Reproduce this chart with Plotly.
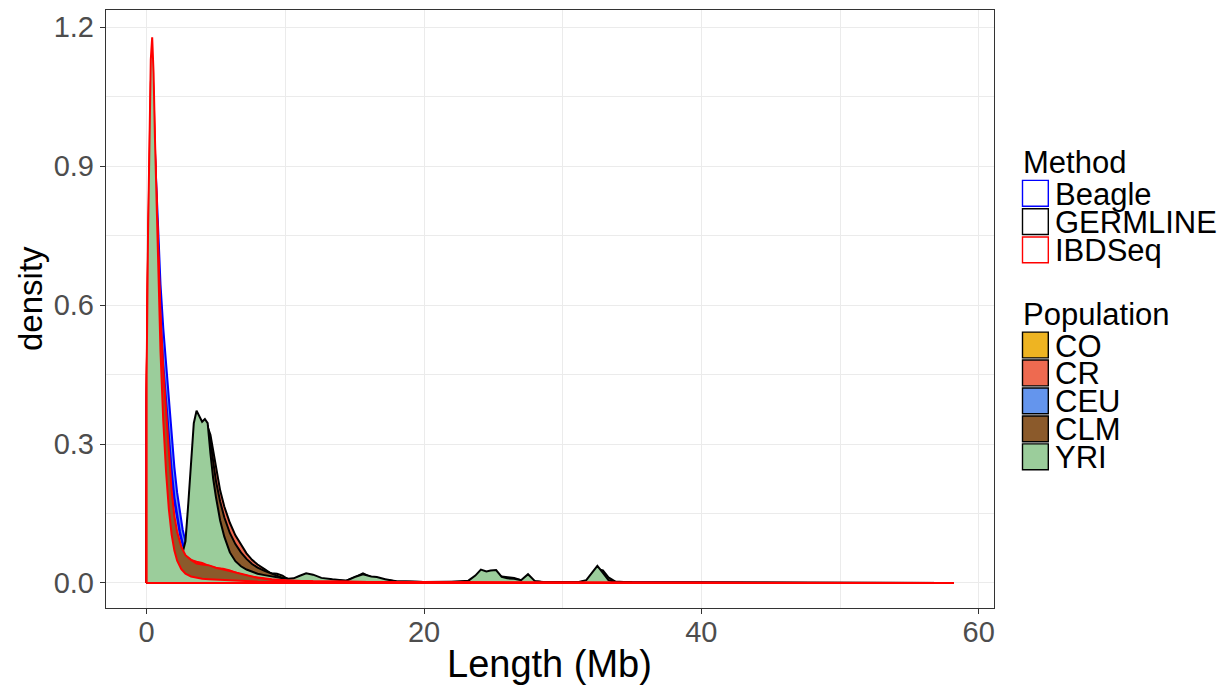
import plotly.graph_objects as go

# ---------------- data ----------------
methods = ["Beagle", "GERMLINE", "IBDSeq"]
populations = ["CO", "CR", "CEU", "CLM", "YRI"]

x_ticks = [0, 20, 40, 60]
y_ticks = [0.0, 0.3, 0.6, 0.9, 1.2]

# Beagle densities (Length in Mb)
beagle_x = [0, 0.2, 0.4, 0.6, 0.8, 1.0, 1.2, 1.4, 1.6, 1.8, 2.0, 2.2, 2.4, 2.6, 2.8,
            3.0, 3.5, 4.0, 5.0, 6.0, 8.0, 10.0, 15.0, 20.0, 30.0, 40.0, 50.0]
beagle_co = [0.38, 0.78, 0.98, 0.90, 0.74, 0.60, 0.50, 0.42, 0.34, 0.27, 0.21, 0.16, 0.125, 0.098, 0.078,
             0.064, 0.045, 0.034, 0.024, 0.017, 0.009, 0.005, 0.002, 0.001, 0.0005, 0.0002, 0.0001]
beagle_cr = [0.36, 0.76, 0.96, 0.88, 0.72, 0.59, 0.49, 0.41, 0.335, 0.265, 0.205, 0.158, 0.122, 0.096, 0.076,
             0.062, 0.044, 0.033, 0.023, 0.016, 0.009, 0.005, 0.002, 0.001, 0.0005, 0.0002, 0.0001]
beagle_ceu = [0.40, 0.80, 1.00, 0.93, 0.78, 0.645, 0.55, 0.47, 0.39, 0.32, 0.25, 0.195, 0.15, 0.115, 0.09,
              0.07, 0.048, 0.036, 0.025, 0.017, 0.009, 0.005, 0.002, 0.001, 0.0005, 0.0002, 0.0001]
beagle_clm = [0.37, 0.76, 0.96, 0.87, 0.70, 0.57, 0.47, 0.39, 0.31, 0.245, 0.185, 0.142, 0.11, 0.086, 0.068,
              0.058, 0.042, 0.032, 0.022, 0.015, 0.008, 0.004, 0.002, 0.001, 0.0004, 0.0002, 0.0001]
beagle_yri = [0.34, 0.74, 0.95, 0.86, 0.69, 0.55, 0.45, 0.37, 0.295, 0.23, 0.175, 0.135, 0.105, 0.082, 0.065,
              0.055, 0.04, 0.031, 0.021, 0.014, 0.008, 0.004, 0.002, 0.001, 0.0004, 0.0002, 0.0001]

# GERMLINE densities
germ_x = [0, 0.2, 0.4, 0.6, 0.8, 1.0, 1.3, 1.6, 2.0, 2.3, 2.6, 2.8, 3.0, 3.2, 3.4, 3.6, 3.8, 4.0,
          4.2, 4.4, 4.6, 4.8, 5.0, 5.3, 5.6, 6.0, 6.4, 6.8, 7.2, 7.6, 8.0, 8.5, 9.0, 9.4, 9.8, 10.2,
          10.6, 11.0, 11.5, 12.0, 12.6, 13.4, 14.4, 15.0, 15.6, 16.2, 16.6, 17.2, 18.0, 20.0, 22.0, 23.2,
          23.7, 24.1, 24.5, 24.8, 25.2, 25.6, 26.0, 26.5, 27.0, 27.5, 28.0, 29.0, 31.0, 31.7, 32.1, 32.5,
          32.9, 33.3, 33.8, 35.0, 40.0, 48.0, 58.2]
germ_co = [0.15, 0.48, 0.70, 0.58, 0.43, 0.29, 0.17, 0.105, 0.068, 0.055, 0.052, 0.07, 0.13, 0.21, 0.28, 0.31, 0.305, 0.30,
           0.31, 0.31, 0.285, 0.25, 0.21, 0.17, 0.135, 0.10, 0.078, 0.062, 0.05, 0.04, 0.032, 0.025, 0.021, 0.020, 0.016, 0.008,
           0.005, 0.005, 0.006, 0.005, 0.004, 0.003, 0.002, 0.003, 0.004, 0.003, 0.003, 0.002, 0.001, 0.001, 0.001, 0.002,
           0.004, 0.008, 0.008, 0.008, 0.008, 0.006, 0.005, 0.004, 0.003, 0.004, 0.001, 0.001, 0.001, 0.002, 0.008, 0.018,
           0.015, 0.005, 0.001, 0.0005, 0.0003, 0.0002, 0.0001]
germ_cr = [0.18, 0.55, 0.78, 0.66, 0.48, 0.33, 0.19, 0.12, 0.075, 0.06, 0.058, 0.08, 0.15, 0.24, 0.31, 0.34, 0.335, 0.33,
           0.335, 0.337, 0.32, 0.285, 0.245, 0.20, 0.165, 0.13, 0.103, 0.082, 0.064, 0.05, 0.04, 0.03, 0.02, 0.014, 0.009, 0.007,
           0.006, 0.006, 0.007, 0.006, 0.005, 0.004, 0.003, 0.004, 0.005, 0.005, 0.004, 0.003, 0.002, 0.001, 0.001, 0.002,
           0.005, 0.01, 0.01, 0.01, 0.01, 0.008, 0.007, 0.006, 0.004, 0.006, 0.002, 0.001, 0.001, 0.003, 0.012, 0.025,
           0.02, 0.007, 0.002, 0.001, 0.0004, 0.0002, 0.0001]
germ_ceu = [0.16, 0.50, 0.72, 0.60, 0.44, 0.30, 0.18, 0.11, 0.07, 0.056, 0.054, 0.075, 0.14, 0.225, 0.29, 0.32, 0.315, 0.315,
            0.33, 0.34, 0.30, 0.245, 0.20, 0.152, 0.118, 0.085, 0.064, 0.05, 0.038, 0.03, 0.024, 0.02, 0.016, 0.013, 0.01, 0.008,
            0.008, 0.01, 0.013, 0.012, 0.008, 0.006, 0.005, 0.012, 0.021, 0.012, 0.01, 0.006, 0.003, 0.002, 0.001, 0.003,
            0.01, 0.02, 0.018, 0.02, 0.02, 0.011, 0.008, 0.007, 0.005, 0.012, 0.003, 0.001, 0.001, 0.004, 0.016, 0.03,
            0.02, 0.006, 0.002, 0.001, 0.0004, 0.0002, 0.0001]
germ_clm = [0.17, 0.52, 0.75, 0.63, 0.46, 0.32, 0.185, 0.115, 0.072, 0.058, 0.056, 0.078, 0.14, 0.23, 0.30, 0.33, 0.325, 0.322,
            0.33, 0.33, 0.305, 0.26, 0.22, 0.176, 0.142, 0.108, 0.084, 0.066, 0.052, 0.041, 0.033, 0.026, 0.02, 0.015, 0.011, 0.009,
            0.008, 0.009, 0.011, 0.01, 0.007, 0.006, 0.004, 0.007, 0.01, 0.009, 0.008, 0.006, 0.003, 0.002, 0.002, 0.003,
            0.008, 0.014, 0.013, 0.014, 0.015, 0.014, 0.012, 0.011, 0.006, 0.01, 0.003, 0.001, 0.001, 0.003, 0.014, 0.03,
            0.027, 0.012, 0.003, 0.001, 0.0005, 0.0002, 0.0001]
germ_yri = [0.20, 0.60, 0.85, 0.72, 0.52, 0.36, 0.21, 0.13, 0.085, 0.068, 0.066, 0.09, 0.17, 0.27, 0.345, 0.372, 0.358, 0.348,
            0.354, 0.345, 0.28, 0.225, 0.185, 0.135, 0.10, 0.066, 0.047, 0.036, 0.029, 0.024, 0.02, 0.017, 0.014, 0.012, 0.01, 0.009,
            0.01, 0.015, 0.021, 0.018, 0.011, 0.008, 0.005, 0.013, 0.019, 0.014, 0.013, 0.008, 0.004, 0.002, 0.002, 0.005,
            0.016, 0.029, 0.025, 0.027, 0.028, 0.013, 0.01, 0.009, 0.006, 0.019, 0.004, 0.001, 0.001, 0.006, 0.022, 0.037,
            0.022, 0.006, 0.002, 0.001, 0.0005, 0.0003, 0.0002]

# IBDSeq densities
ibd_x = [0, 0.1, 0.2, 0.3, 0.4, 0.5, 0.6, 0.8, 1.0, 1.2, 1.4, 1.6, 1.8, 2.0, 2.2, 2.5, 2.8, 3.2, 3.6,
         4.0, 4.5, 5.0, 5.5, 6.0, 6.5, 7.0, 7.5, 8.0, 9.0, 10.0, 12.0, 15.0, 20.0, 30.0, 40.0, 50.0, 58.2]
ibd_co = [0.40, 0.70, 0.92, 1.04, 1.08, 1.03, 0.92, 0.72, 0.54, 0.41, 0.31, 0.23, 0.165, 0.12, 0.09, 0.065, 0.052, 0.045, 0.04,
          0.036, 0.031, 0.03, 0.028, 0.024, 0.02, 0.017, 0.014, 0.012, 0.008, 0.006, 0.003, 0.002, 0.001, 0.0005, 0.0003, 0.0002, 0.0001]
ibd_cr = [0.43, 0.72, 0.95, 1.08, 1.12, 1.06, 0.94, 0.73, 0.56, 0.43, 0.33, 0.25, 0.18, 0.13, 0.10, 0.072, 0.058, 0.05, 0.046,
          0.043, 0.037, 0.032, 0.031, 0.027, 0.021, 0.017, 0.013, 0.01, 0.007, 0.005, 0.003, 0.002, 0.001, 0.0005, 0.0003, 0.0002, 0.0001]
ibd_ceu = [0.41, 0.70, 0.90, 1.00, 1.04, 0.99, 0.90, 0.72, 0.55, 0.42, 0.32, 0.24, 0.17, 0.125, 0.095, 0.068, 0.054, 0.045, 0.038,
           0.033, 0.034, 0.028, 0.025, 0.022, 0.019, 0.016, 0.013, 0.01, 0.007, 0.005, 0.003, 0.002, 0.001, 0.0005, 0.0003, 0.0002, 0.0001]
ibd_clm = [0.42, 0.68, 0.88, 0.98, 1.02, 0.99, 0.92, 0.75, 0.58, 0.46, 0.37, 0.28, 0.20, 0.145, 0.11, 0.078, 0.06, 0.05, 0.042,
           0.04, 0.038, 0.033, 0.03, 0.026, 0.022, 0.018, 0.014, 0.011, 0.007, 0.005, 0.003, 0.002, 0.001, 0.0005, 0.0003, 0.0002, 0.0001]
ibd_yri = [0.45, 0.75, 0.98, 1.13, 1.178, 1.10, 0.96, 0.70, 0.50, 0.35, 0.24, 0.16, 0.105, 0.07, 0.048, 0.03, 0.02, 0.014, 0.011,
           0.009, 0.008, 0.007, 0.006, 0.005, 0.0045, 0.004, 0.0035, 0.003, 0.0025, 0.002, 0.0015, 0.001, 0.0007, 0.0004, 0.0003, 0.0002, 0.0001]

series = {
    "Beagle": (beagle_x, [beagle_co, beagle_cr, beagle_ceu, beagle_clm, beagle_yri]),
    "GERMLINE": (germ_x, [germ_co, germ_cr, germ_ceu, germ_clm, germ_yri]),
    "IBDSeq": (ibd_x, [ibd_co, ibd_cr, ibd_ceu, ibd_clm, ibd_yri]),
}

# ---------------- styles ----------------
method_colors = {"Beagle": "#0000FF", "GERMLINE": "#000000", "IBDSeq": "#FF0000"}
pop_colors = {"CO": "#EEB422", "CR": "#EE6A50", "CEU": "#6495ED", "CLM": "#8B5A2B", "YRI": "#9BCD9B"}
FONT = "Liberation Sans, Arial, Helvetica, sans-serif"

# the page body adds an 8px offset; the figure is sized to fill the rest of the window
OFF = 8
W, H = 1231 - OFF, 688 - OFF
L, R, T, B = 106, 994, 10, 608  # panel box in window pixels


def px(xp):
    return (xp - L) / (R - L)


def py(yp):
    return (B - yp) / (B - T)


fig = go.Figure()
for m in methods:
    xs, ys_list = series[m]
    for pop, ys in zip(populations, ys_list):
        poly_x = [xs[0]] + list(xs) + [xs[-1], xs[0]]
        poly_y = [0] + list(ys) + [0, 0]
        fig.add_trace(go.Scatter(
            x=poly_x, y=poly_y, mode="lines", fill="toself",
            fillcolor=pop_colors[pop],
            line=dict(color=method_colors[m], width=2.0),
            showlegend=False, hoverinfo="skip", name=f"{m} {pop}"))

# ---------------- manual legend ----------------
shapes = []
annotations = []
box_left, box_right, box_half = 1022.5, 1048.3, 12.9
text_left = 1052.5
leg_font = 31

annotations.append(dict(x=px(1021), y=py(162), xref="paper", yref="paper", text="Method",
                        showarrow=False, xanchor="left", yanchor="middle",
                        font=dict(family=FONT, size=leg_font, color="black")))
for i, m in enumerate(methods):
    cy = 193.3 + i * 28.3
    shapes.append(dict(type="rect", xref="paper", yref="paper",
                       x0=px(box_left), x1=px(box_right), y0=py(cy + box_half), y1=py(cy - box_half),
                       fillcolor="white", line=dict(color=method_colors[m], width=1.4)))
    annotations.append(dict(x=px(text_left), y=py(cy + 1), xref="paper", yref="paper", text=m,
                            showarrow=False, xanchor="left", yanchor="middle",
                            font=dict(family=FONT, size=leg_font, color="black")))

annotations.append(dict(x=px(1021), y=py(314), xref="paper", yref="paper", text="Population",
                        showarrow=False, xanchor="left", yanchor="middle",
                        font=dict(family=FONT, size=leg_font, color="black")))
for i, p in enumerate(populations):
    cy = 345.0 + i * 27.95
    shapes.append(dict(type="rect", xref="paper", yref="paper",
                       x0=px(box_left), x1=px(box_right), y0=py(cy + box_half), y1=py(cy - box_half),
                       fillcolor=pop_colors[p], line=dict(color="black", width=1.4)))
    annotations.append(dict(x=px(text_left), y=py(cy + 1), xref="paper", yref="paper", text=p,
                            showarrow=False, xanchor="left", yanchor="middle",
                            font=dict(family=FONT, size=leg_font, color="black")))

# axis titles
annotations.append(dict(x=px(549), y=py(664), xref="paper", yref="paper", text="Length (Mb)",
                        showarrow=False, xanchor="center", yanchor="middle",
                        font=dict(family=FONT, size=38, color="black")))
annotations.append(dict(x=px(30), y=py(299), xref="paper", yref="paper", text="density",
                        showarrow=False, xanchor="center", yanchor="middle", textangle=-90,
                        font=dict(family=FONT, size=33, color="black")))

grid = "#EBEBEB"
fig.update_layout(
    width=W, height=H,
    margin=dict(l=L - OFF, r=1231 - R, t=T - OFF, b=688 - B, pad=0),
    paper_bgcolor="white", plot_bgcolor="white",
    showlegend=False,
    shapes=shapes, annotations=annotations,
    font=dict(family=FONT),
    xaxis=dict(range=[-2.93, 61.1], tickvals=x_ticks, ticktext=[str(v) for v in x_ticks],
               showgrid=True, gridcolor=grid, gridwidth=1.2, zeroline=False,
               minor=dict(dtick=10, tick0=0, showgrid=True, gridcolor=grid, gridwidth=0.6),
               ticks="outside", ticklen=5, tickwidth=1.2, tickcolor="#333333",
               ticklabelstandoff=-7,
               tickfont=dict(family=FONT, size=29, color="#4D4D4D"),
               showline=True, mirror=True, linecolor="#333333", linewidth=1.4),
    yaxis=dict(range=[-0.054, 1.237], tickvals=y_ticks, ticktext=[f"{v:.1f}" for v in y_ticks],
               showgrid=True, gridcolor=grid, gridwidth=1.2, zeroline=False,
               minor=dict(dtick=0.15, tick0=0, showgrid=True, gridcolor=grid, gridwidth=0.6),
               ticks="outside", ticklen=5, tickwidth=1.2, tickcolor="#333333",
               tickfont=dict(family=FONT, size=29, color="#4D4D4D"),
               showline=True, mirror=True, linecolor="#333333", linewidth=1.4),
)

fig.write_html("out.html")
